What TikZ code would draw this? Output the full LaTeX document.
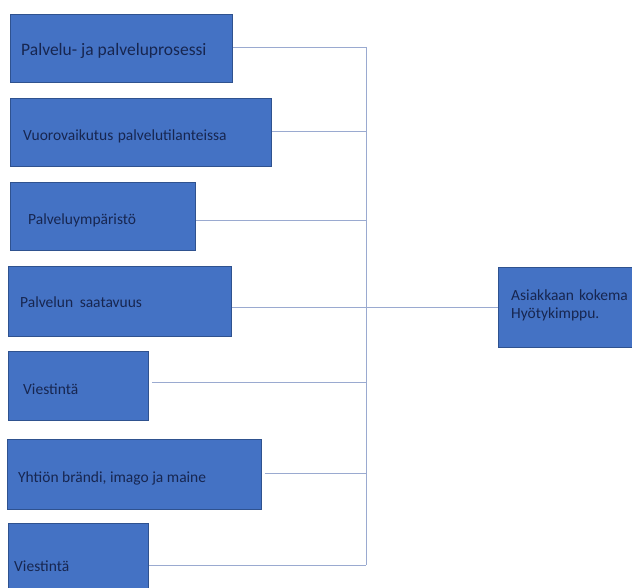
\documentclass[tikz,border=0pt]{standalone}
\usepackage{fontspec}
\setmainfont{Carlito}
\definecolor{boxfill}{HTML}{4472C4}
\definecolor{boxline}{HTML}{2F528F}
\definecolor{txt}{HTML}{172650}
\definecolor{wire}{HTML}{9AAAD0}
\begin{document}
\begin{tikzpicture}[x=1pt,y=-1pt,
  box/.style={draw=boxline,line width=0.8pt,fill=boxfill,anchor=north west,inner sep=0pt},
  lbl/.style={anchor=west,text=txt,inner sep=0pt,font=\fontsize{15.5}{18}\selectfont},
  wireline/.style={draw=wire,line width=0.9pt}]
\useasboundingbox (0,0) rectangle (632,588);
\node[box,minimum width=222pt,minimum height=68pt] (b1) at (10,14) {};
\node[box,minimum width=261pt,minimum height=68pt] (b2) at (10,98) {};
\node[box,minimum width=185pt,minimum height=68pt] (b3) at (10,182) {};
\node[box,minimum width=223pt,minimum height=70pt] (b4) at (8,266) {};
\node[box,minimum width=140pt,minimum height=69pt] (b5) at (8,351) {};
\node[box,minimum width=254pt,minimum height=70pt] (b6) at (7,439) {};
\node[box,minimum width=140pt,minimum height=70pt] (b7) at (8,523) {};
\node[box,minimum width=140pt,minimum height=80pt] (r) at (498,267) {};
\node[lbl,font=\fontsize{17.5}{20}\selectfont] (t1) at (21,51) {Palvelu- ja palveluprosessi};
\node[lbl] (t2) at (23,136) {Vuorovaikutus\hspace{1pt} palvelutilanteissa};
\node[lbl] (t3) at (28,220) {Palveluympäristö};
\node[lbl] (t4) at (20,302) {Palvelun\hspace{3pt} saatavuus};
\node[lbl] (t5) at (23,389) {Viestintä};
\node[lbl] (t6) at (18,478) {Yhtiön brändi, imago ja maine};
\node[lbl] (t7) at (14,566) {Viestintä};
\node[lbl,align=left] (t8) at (511,305) {Asiakkaan\hspace{1.5pt} kokema\\Hyötykimppu.};
\coordinate (j1) at (366,47);
\coordinate (j2) at (366,131);
\coordinate (j3) at (366,220);
\coordinate (j5) at (366,382);
\coordinate (j6) at (366,473);
\coordinate (j7) at (366,565);
\draw[wireline] (b1.east |- j1) -- (j1);
\draw[wireline] (b2.east |- j2) -- (j2);
\draw[wireline] (b3.east |- j3) -- (j3);
\draw[wireline] ([xshift=3pt]b5.east |- j5) -- (j5);
\draw[wireline] ([xshift=3pt]b6.east |- j6) -- (j6);
\draw[wireline] (b7.east |- j7) -- (j7);
\draw[wireline] (j1) -- (j7);
\draw[wireline] (b4.east |- r.west) -- (r.west);
\end{tikzpicture}
\end{document}
